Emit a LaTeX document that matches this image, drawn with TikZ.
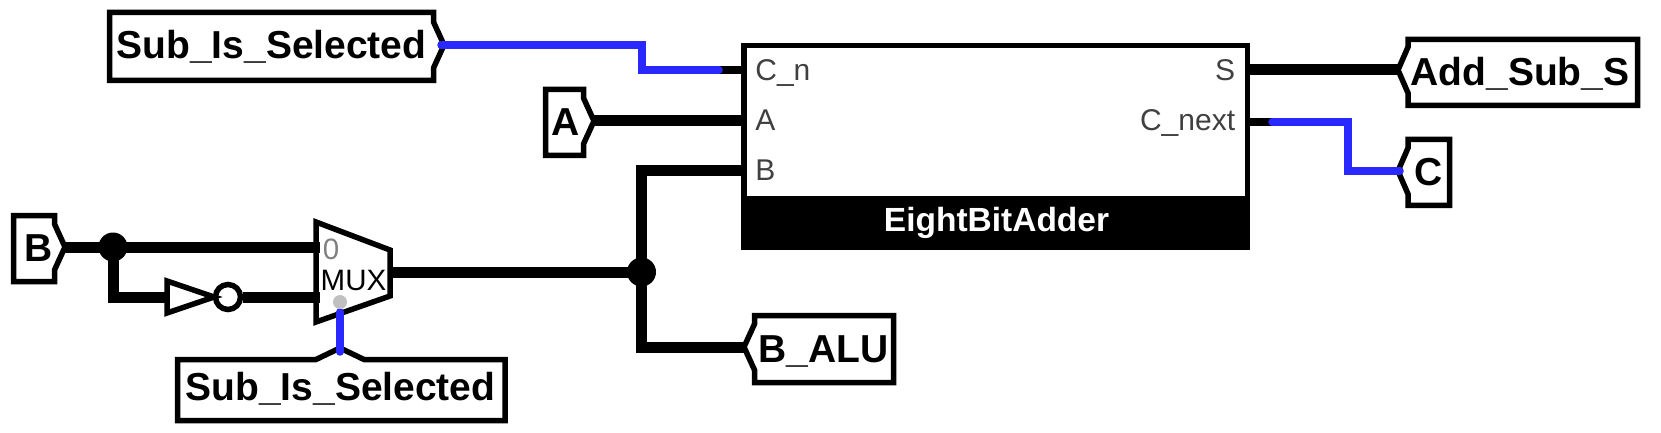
\documentclass[tikz,border=0pt]{standalone}
\usepackage{fontspec}
\setmainfont{Liberation Sans}
\definecolor{wireblue}{RGB}{40,40,255}
\definecolor{portgray}{RGB}{64,64,64}
\tikzset{
  frame/.style={line width=2.75pt, line join=miter},
  busline/.style={line width=5.5pt},
  bitline/.style={line width=3.75pt, wireblue, line cap=round},
  stubline/.style={line width=3.75pt},
  tunneltext/.style={anchor=base, inner sep=0pt, font=\fontsize{19.5pt}{20pt}\selectfont\bfseries},
  porttext/.style={inner sep=0pt, text=portgray, font=\fontsize{15pt}{16pt}\selectfont},
  joint/.style={circle, fill=black, inner sep=0pt, minimum size=14.5pt},
}
\begin{document}
\begin{tikzpicture}[x=0.5pt, y=-0.5pt]
\useasboundingbox (0, 0) rectangle (1661, 433);
% adder
\node [draw, frame, outer sep=0pt, minimum width=251.75pt, minimum height=100.6pt, inner sep=0pt, anchor=north west] (adder) at (743.75, 45.75) {};
\node [fill=black, outer sep=0pt, minimum width=254.5pt, minimum height=27pt, inner sep=0pt, anchor=north west] (adderbar) at (741, 196) {};
\node [anchor=base, inner sep=0pt, text=white, font=\fontsize{16.75pt}{17pt}\selectfont\bfseries] (addername) at (996.5, 232) {EightBitAdder};
\node [porttext, anchor=base west] (portcn) at (755, 81) {C\_n};
\node [porttext, anchor=base west] (porta) at (755, 131) {A};
\node [porttext, anchor=base west] (portb) at (755, 181) {B};
\node [porttext, anchor=base east] (ports) at (1235.5, 81) {S};
\node [porttext, anchor=base east] (portnext) at (1235.5, 131) {C\_next};
\coordinate (addercn) at (743, 70);
\coordinate (addera) at (743, 121);
\coordinate (adderb) at (743, 171);
\coordinate (adders) at (1248, 70);
\coordinate (addernext) at (1248, 122);
% tunnels
\draw [frame] (109.5, 12.5) -- (433.5, 12.5) -- (433.5, 22) -- (444, 45) -- (433.5, 68) -- (433.5, 80.5) -- (109.5, 80.5) -- cycle;
\node [tunneltext] (subtop) at (271.5, 59) {Sub\_Is\_Selected};
\coordinate (subtoptip) at (441, 45);
\draw [frame] (545.5, 89.5) -- (583.5, 89.5) -- (583.5, 98) -- (594, 121) -- (583.5, 144) -- (583.5, 155.5) -- (545.5, 155.5) -- cycle;
\node [tunneltext] (atext) at (565.5, 136) {A};
\coordinate (atip) at (592, 121);
\draw [frame] (13.5, 215.5) -- (54.5, 215.5) -- (54.5, 224) -- (65, 247) -- (54.5, 270) -- (54.5, 281.5) -- (13.5, 281.5) -- cycle;
\node [tunneltext] (btext) at (38.5, 261.5) {B};
\coordinate (btip) at (63, 247);
\draw [frame] (1408, 39.5) -- (1637.5, 39.5) -- (1637.5, 105.5) -- (1408, 105.5) -- (1408, 93) -- (1398, 70) -- (1408, 47) -- cycle;
\node [tunneltext] (addsub) at (1520, 86) {Add\_Sub\_S};
\coordinate (addsubtip) at (1400, 70);
\draw [frame] (1408, 139.5) -- (1449.5, 139.5) -- (1449.5, 205.5) -- (1408, 205.5) -- (1408, 194) -- (1398, 171) -- (1408, 148) -- cycle;
\node [tunneltext] (ctext) at (1429, 185.5) {C};
\coordinate (ctip) at (1400, 171);
\draw [frame] (754.5, 315.5) -- (893.5, 315.5) -- (893.5, 382.5) -- (754.5, 382.5) -- (754.5, 370) -- (744, 347) -- (754.5, 324) -- cycle;
\node [tunneltext] (balu) at (823.5, 362) {B\_ALU};
\coordinate (balutip) at (746, 347);
\draw [frame] (177.5, 359.5) -- (316, 359.5) -- (340, 348) -- (364, 359.5) -- (505, 359.5) -- (505, 420.5) -- (177.5, 420.5) -- cycle;
\node [tunneltext] (subbot) at (340.5, 400) {Sub\_Is\_Selected};
\coordinate (subbottip) at (340, 352);
% mux
\draw [frame] (316, 222) -- (390, 250) -- (390, 296) -- (316, 322) -- cycle;
\node [anchor=base, inner sep=0pt, font=\fontsize{14.75pt}{15pt}\selectfont] (muxtext) at (353.5, 290) {MUX};
\node [anchor=base, inner sep=0pt, text=gray, font=\fontsize{14.75pt}{15pt}\selectfont] (muxzero) at (331, 259) {0};
\coordinate (muxin) at (320, 247);
\coordinate (muxinv) at (320, 297);
\coordinate (muxout) at (389, 272);
% inverter
\draw [frame] (167, 281) -- (214, 297) -- (167, 313) -- cycle;
\node [circle, draw, frame, minimum size=12.5pt, inner sep=0pt] (bubble) at (228, 297) {};
\coordinate (invin) at (167, 297);
% wires
\node [joint] (jointb) at (113, 247) {};
\node [joint] (jointout) at (641.5, 272) {};
\draw [busline] (btip) -- (jointb.center);
\draw [busline] (jointb.center) -- (muxin);
\draw [busline, line join=miter] (jointb.center) |- (invin);
\draw [busline] (bubble) -- (muxinv);
\draw [busline] (muxout) -- (jointout.center);
\draw [busline, line join=miter] (jointout.center) |- (adderb);
\draw [busline, line join=miter] (jointout.center) |- (balutip);
\draw [busline] (atip) -- (addera);
\draw [busline] (adders) -- (addsubtip);
\coordinate (cnstub) at (719, 70);
\coordinate (nextstub) at (1272, 122);
\draw [stubline] (cnstub) -- (addercn);
\draw [stubline] (nextstub) -- (addernext);
\coordinate (cnbend) at (642, 58);
\coordinate (nextbend) at (1348, 146);
\draw [bitline, line join=miter] (subtoptip) -| (cnbend) |- (cnstub);
\draw [bitline, line join=miter] (nextstub) -| (nextbend) |- (ctip);
\coordinate (muxsel) at (340, 312);
\draw [bitline] (muxsel) -- (subbottip);
\node [circle, fill={rgb,255:red,192;green,192;blue,192}, inner sep=0pt, minimum size=7pt] (seldot) at (340, 302) {};
\end{tikzpicture}
\end{document}
